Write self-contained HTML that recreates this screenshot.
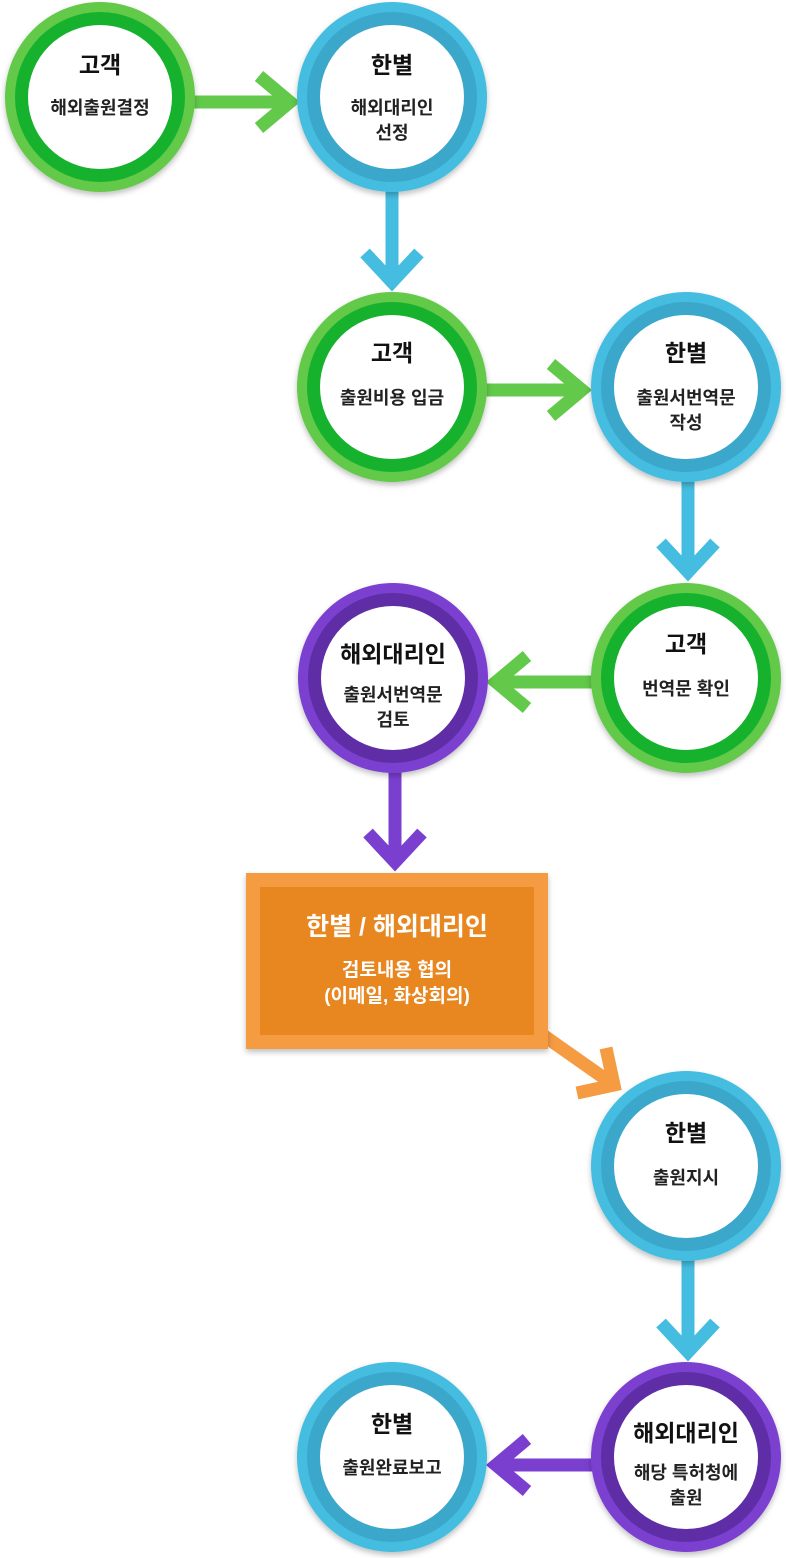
<!DOCTYPE html>
<html><head><meta charset="utf-8">
<style>
html,body{margin:0;padding:0;background:#fff;}
svg{display:block;}
text{font-family:"Liberation Sans","Noto Sans CJK KR",sans-serif;text-anchor:middle;font-weight:bold;}
.t{font-size:23px;fill:#111;}
.s{font-size:18px;fill:#222;}
.bt{font-size:25px;fill:#fff;}
.bs{font-size:19px;fill:#fff;}
</style></head><body>
<svg width="786" height="1558" viewBox="0 0 786 1558" xmlns="http://www.w3.org/2000/svg">
<defs>
<filter id="sh" x="-20%" y="-20%" width="140%" height="140%"><feDropShadow dx="0" dy="3" stdDeviation="3" flood-color="#000" flood-opacity="0.25"/></filter>
<g id="g"><circle r="95" fill="#62c94a"/><circle r="85" fill="#12b22f"/><circle r="72" fill="#fff"/></g>
<g id="b"><circle r="95" fill="#45bde0"/><circle r="85" fill="#3aa7cb"/><circle r="72" fill="#fff"/></g>
<g id="p"><circle r="95" fill="#7b3fd0"/><circle r="85" fill="#5e2fa6"/><circle r="72" fill="#fff"/></g>
</defs>

<g fill="none" stroke-width="13" stroke-linejoin="miter" stroke-linecap="butt">
<g stroke="#62c94a">
<line x1="190" y1="102" x2="290" y2="102"/><polyline points="259,76 290,102 259,128"/>
<line x1="485" y1="390" x2="582" y2="390"/><polyline points="551,364 582,390 551,416"/>
<line x1="595" y1="682" x2="496" y2="682"/><polyline points="527,656 496,682 527,708"/>
</g>
<g stroke="#45bde0">
<line x1="392" y1="185" x2="392" y2="282"/><polyline points="365,253 392,282 419,253"/>
<line x1="688" y1="475" x2="688" y2="572"/><polyline points="661,543 688,572 715,543"/>
<line x1="688" y1="1255" x2="688" y2="1352"/><polyline points="661,1323 688,1352 715,1323"/>
</g>
<g stroke="#7b3fd0">
<line x1="395" y1="765" x2="395" y2="862"/><polyline points="368,833 395,862 422,833"/>
<line x1="595" y1="1465" x2="496" y2="1465"/><polyline points="527,1439 496,1465 527,1491"/>
</g>
<g stroke="#f59b42">
<line x1="540" y1="1033" x2="614" y2="1085"/><polyline points="606,1048 614,1085 577,1093"/>
</g>
</g>

<g filter="url(#sh)">
<use href="#g" x="100" y="97"/>
<use href="#b" x="392" y="97"/>
<use href="#g" x="392" y="387"/>
<use href="#b" x="686" y="387"/>
<use href="#g" x="686" y="678"/>
<use href="#p" x="393" y="678"/>
<use href="#b" x="686" y="1166"/>
<use href="#p" x="686" y="1457"/>
<use href="#b" x="392" y="1457"/>
<rect x="246" y="873" width="302" height="176" fill="#f59b42"/>
</g>
<rect x="260" y="887" width="274" height="148" fill="#e8861f"/>

<text class="t" x="100" y="73">고객</text>
<text class="s" x="100" y="114">해외출원결정</text>

<text class="t" x="392" y="73">한별</text>
<text class="s" x="392" y="114">해외대리인</text>
<text class="s" x="392" y="139">선정</text>

<text class="t" x="392" y="361">고객</text>
<text class="s" x="392" y="404">출원비용 입금</text>

<text class="t" x="686" y="361">한별</text>
<text class="s" x="686" y="404">출원서번역문</text>
<text class="s" x="686" y="429">작성</text>

<text class="t" x="686" y="652">고객</text>
<text class="s" x="686" y="695">번역문 확인</text>

<text class="t" x="393" y="662">해외대리인</text>
<text class="s" x="393" y="701">출원서번역문</text>
<text class="s" x="393" y="726">검토</text>

<text class="bt" x="397" y="935">한별 / 해외대리인</text>
<text class="bs" x="397" y="976">검토내용 협의</text>
<text class="bs" x="397" y="1002">(이메일, 화상회의)</text>

<text class="t" x="686" y="1141">한별</text>
<text class="s" x="686" y="1184">출원지시</text>

<text class="t" x="686" y="1441">해외대리인</text>
<text class="s" x="686" y="1479">해당 특허청에</text>
<text class="s" x="686" y="1504">출원</text>

<text class="t" x="392" y="1432">한별</text>
<text class="s" x="392" y="1474">출원완료보고</text>
</svg>
</body></html>
